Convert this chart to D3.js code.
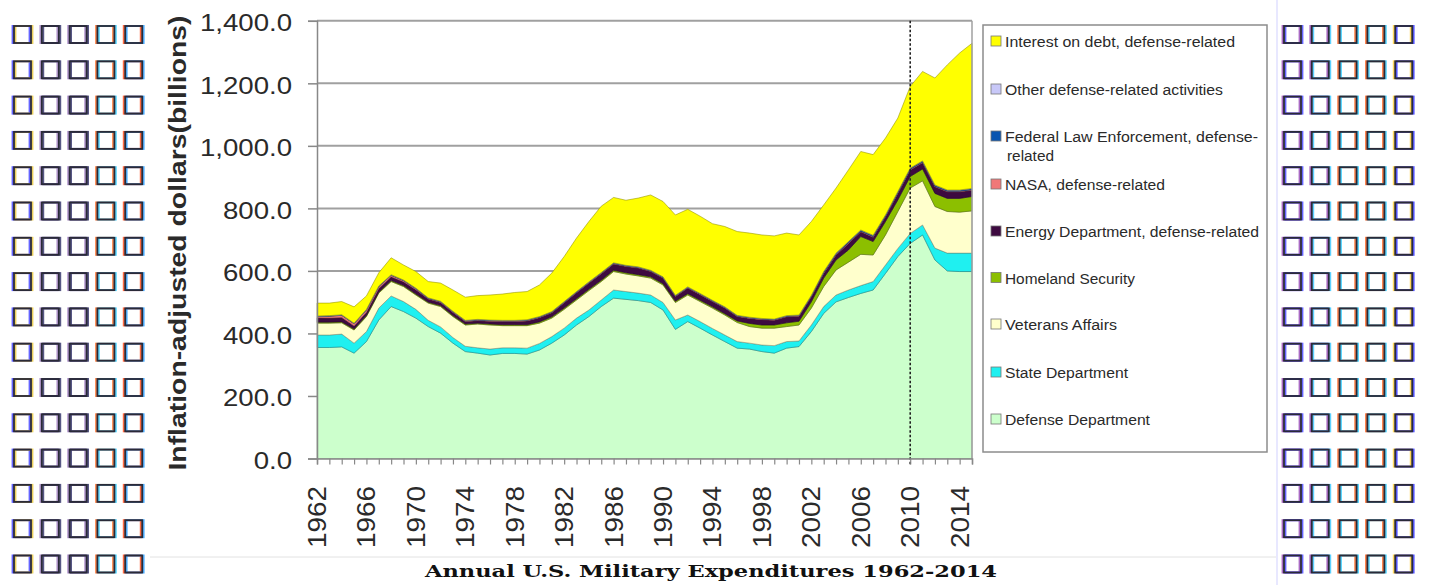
<!DOCTYPE html>
<html><head><meta charset="utf-8">
<script src="https://cdn.jsdelivr.net/npm/d3@7"></script>
<style>body{margin:0;background:#fff}svg{display:block}</style>
</head><body><svg id="c" width="1431" height="585"></svg>
<script>
const years = [1962,1963,1964,1965,1966,1967,1968,1969,1970,1971,1972,1973,1974,1975,1976,1977,1978,1979,1980,1981,1982,1983,1984,1985,1986,1987,1988,1989,1990,1991,1992,1993,1994,1995,1996,1997,1998,1999,2000,2001,2002,2003,2004,2005,2006,2007,2008,2009,2010,2011,2012,2013,2014,2015];
const defenseDept = [355,355,357,337,374,443,486,470,449,422,401,369,342,337,331,336,336,334,347,369,395,427,454,486,513,509,505,499,475,413,438,417,395,374,353,350,342,337,353,358,406,464,501,515,528,539,592,646,688,715,635,600,598,598];
const stateDept = [40,40,41,32,32,38,34,32,28,20,20,18,17,17,19,18,18,19,21,21,22,22,21,21,26,25,24,24,24,30,21,21,21,21,21,19,21,24,21,18,21,22,22,24,25,27,27,26,32,32,38,57,59,59];
const veteransAffairs = [38,38,36,42,48,48,46,48,46,55,65,67,68,76,77,71,71,72,65,59,60,58,62,59,59,56,55,54,56,56,64,64,65,64,61,53,54,56,48,51,54,64,80,89,100,85,96,118,145,141,133,133,131,135];
const homelandSecurity = [3,3,3,3,3,3,3,3,3,3,3,3,3,3,3,3,3,3,4,4,4,4,4,4,4,4,4,4,4,4,4,4,4,4,5,10,10,10,12,12,20,27,32,39,57,43,43,37,37,38,42,42,44,46];
const energyDept = [14,13,14,10,11,12,12,12,14,10,10,10,8,8,9,10,10,12,13,13,17,19,20,21,20,20,21,17,18,15,18,18,17,18,14,16,17,15,19,16,16,15,16,21,15,14,15,21,21,20,21,21,21,20];
const nasa = [4,6,7,7,7,6,5,4,3,2,2,2,2,2,2,2,2,2,2,2,2,2,2,2,2,2,2,2,2,2,2,2,2,2,2,2,2,2,2,2,2,2,2,2,2,2,2,2,2,2,2,2,2,2];
const fedLawEnforcement = [1,1,1,1,1,1,1,1,1,1,1,1,1,1,1,1,1,1,1,1,1,1,1,1,1,1,1,1,1,1,1,1,1,1,1,1,1,1,1,1,2,3,3,3,3,3,3,3,3,3,3,3,3,3];
const otherActivities = [1,1,1,1,1,1,1,1,1,1,1,1,1,1,1,1,1,1,1,1,1,1,1,1,1,1,1,1,1,1,1,1,1,1,1,1,1,1,1,1,1,1,1,1,1,1,1,1,1,1,1,1,1,1];
const interestOnDebt = [41,40,42,52,43,42,54,48,53,52,58,68,74,76,80,84,89,90,101,123,144,171,193,212,209,208,220,241,241,257,248,247,245,257,268,269,267,266,264,256,236,213,208,229,251,258,246,235,261,286,342,400,438,464];

const seriesKeys = ["defense","state","va","homeland","energy","nasa","fle","other","interest"];
const seriesLabels = ["Defense Department","State Department","Veterans Affairs","Homeland Security","Energy Department, defense-related","NASA, defense-related","Federal Law Enforcement, defense-related","Other defense-related activities","Interest on debt, defense-related"];
const seriesColors = ["#ccffcc","#1ff0f0","#ffffcc","#8cbf00","#3d0a40","#f07878","#0a55b0","#c8c8f8","#ffff00"];
const yTickValues = [0,200,400,600,800,1000,1200,1400];
const xLabelYears = [1962,1966,1970,1974,1978,1982,1986,1990,1994,1998,2002,2006,2010,2014];
const markerYear = 2010;
const yAxisTitle = "Inflation-adjusted dollars(billions)";
const chartTitle = "Annual U.S. Military Expenditures 1962-2014";

const seriesArrays = [defenseDept,stateDept,veteransAffairs,homelandSecurity,energyDept,nasa,fedLawEnforcement,otherActivities,interestOnDebt];
const table = years.map((y,i)=>{const o={year:y}; seriesKeys.forEach((k,j)=>o[k]=seriesArrays[j][i]); return o;});

const svg = d3.select("#c");
const FONT = "'Liberation Sans', Arial, sans-serif";

// decorative boxes
const leftFringe = [["#4a4aff","#e8c840"],["#a888c8","#3a3a70"],["#a888c8","#3a3a70"],["#ff8040","#40d0ff"],["#ff5020","#30a0ff"]];
const rightFringe = [["#9a50b8","#4a4aff"],["#9a50b8","#40c8ff"],["#ff7030","#40d0ff"],["#ff7030","#40d0ff"],["#ffd040","#3a3aff"]];
function boxes(x0, fr){
  const g = svg.append("g");
  for(let r=0;r<16;r++){
    for(let c=0;c<5;c++){
      const x = x0 + c*27.8, y = 26 + r*35.3;
      g.append("rect").attr("x",x-1.4).attr("y",y).attr("width",17).attr("height",17).attr("fill","none").attr("stroke",fr[c][0]).attr("stroke-width",2).attr("opacity",0.85);
      g.append("rect").attr("x",x+1.4).attr("y",y).attr("width",17).attr("height",17).attr("fill","none").attr("stroke",fr[c][1]).attr("stroke-width",2).attr("opacity",0.85);
      g.append("rect").attr("x",x).attr("y",y).attr("width",17).attr("height",17).attr("fill","none").attr("stroke","#2a2a38").attr("stroke-width",1.8);
    }
  }
}
boxes(14, leftFringe);
boxes(1284, rightFringe);
svg.append("line").attr("x1",1277).attr("x2",1277).attr("y1",0).attr("y2",585).attr("stroke","#8080ff").attr("stroke-width",1).attr("opacity",0.35);
svg.append("line").attr("x1",150).attr("x2",1276).attr("y1",557).attr("y2",557).attr("stroke","#e2e2e2").attr("stroke-width",1);

// scales
const x = d3.scaleLinear().domain([years[0], years[years.length-1]]).range([317, 972]);
const y = d3.scaleLinear().domain([0,1400]).range([458.5, 20.8]);

// gridlines
svg.append("g").selectAll("line").data(yTickValues.filter(v=>v>0)).join("line")
  .attr("x1",317).attr("x2",972).attr("y1",d=>y(d)).attr("y2",d=>y(d))
  .attr("stroke","#a0a0a0").attr("stroke-width",2);

// stacked areas
const stack = d3.stack().keys(seriesKeys);
const layers = stack(table);
const area = d3.area().x(d=>x(d.data.year)).y0(d=>y(d[0])).y1(d=>y(d[1]));
svg.append("g").selectAll("path").data(layers).join("path")
  .attr("d",area)
  .attr("fill",(d,i)=>seriesColors[i])
  .attr("stroke",(d,i)=>d3.color(seriesColors[i]).darker(1.6))
  .attr("stroke-width",0.8).attr("stroke-opacity",0.7);

// plot right border
svg.append("line").attr("x1",972).attr("x2",972).attr("y1",y(1400)).attr("y2",y(0)).attr("stroke","#a0a0a0").attr("stroke-width",1.5);

// dotted marker
svg.append("line").attr("x1",x(markerYear)).attr("x2",x(markerYear)).attr("y1",y(1400)).attr("y2",y(0)+6)
  .attr("stroke","#222").attr("stroke-width",1.6).attr("stroke-dasharray","2.5,2");

// y axis
const yAxis = d3.axisLeft(y).tickValues(yTickValues).tickSize(9).tickFormat(d3.format(",.1f"));
const yg = svg.append("g").attr("transform","translate(317,0)").call(yAxis);
yg.select(".domain").attr("stroke","#888").attr("stroke-width",1.5);
yg.selectAll(".tick line").attr("stroke","#888").attr("stroke-width",1.5);
yg.selectAll(".tick text").attr("x",null).attr("dy",null)
  .attr("font-family",FONT).attr("font-size",23).attr("fill","#2a2a2a")
  .attr("text-anchor","end")
  .attr("transform","translate(-25,10) scale(1.2,1)");

// x axis
const xAxis = d3.axisBottom(x).tickValues(years).tickSize(6).tickFormat("");
const xg = svg.append("g").attr("transform",`translate(0,${y(0)})`).call(xAxis);
xg.select(".domain").attr("stroke","#888").attr("stroke-width",1.5);
xg.selectAll(".tick line").attr("stroke","#888").attr("stroke-width",1.2);
svg.append("g").selectAll("text").data(xLabelYears).join("text")
  .attr("transform",d=>`translate(${x(d)+9},486) rotate(-90)`)
  .attr("text-anchor","end")
  .attr("font-family",FONT).attr("font-size",25).attr("fill","#2a2a2a")
  .attr("textLength",62).attr("lengthAdjust","spacingAndGlyphs")
  .text(d=>d);

// y title
svg.append("text").attr("transform","translate(185.5,243) rotate(-90)")
  .attr("text-anchor","middle").attr("font-family",FONT).attr("font-weight","bold")
  .attr("font-size",23).attr("fill","#2a2a2a")
  .attr("textLength",455).attr("lengthAdjust","spacingAndGlyphs")
  .text(yAxisTitle);

// legend
svg.append("rect").attr("x",983).attr("y",25).attr("width",284).attr("height",427)
  .attr("fill","#fff").attr("stroke","#8c8c8c").attr("stroke-width",1.5);
const legendRows = [
  {i:8, lines:["Interest on debt, defense-related"], base:47, w:[230]},
  {i:7, lines:["Other defense-related activities"], base:95, w:[218]},
  {i:6, lines:["Federal Law Enforcement, defense-","related"], base:142, w:[253,47]},
  {i:5, lines:["NASA, defense-related"], base:190, w:[160]},
  {i:4, lines:["Energy Department, defense-related"], base:237, w:[254]},
  {i:3, lines:["Homeland Security"], base:283.5, w:[130]},
  {i:2, lines:["Veterans Affairs"], base:330, w:[112]},
  {i:1, lines:["State Department"], base:378, w:[123]},
  {i:0, lines:["Defense Department"], base:425, w:[145]}
];
const lg = svg.append("g");
legendRows.forEach(r=>{
  lg.append("rect").attr("x",991).attr("y",r.base-11).attr("width",10).attr("height",10)
    .attr("fill",seriesColors[r.i]).attr("stroke","#777").attr("stroke-width",0.8);
  r.lines.forEach((t,k)=>{
    lg.append("text").attr("x",k===0?1005:1007).attr("y",r.base+k*19)
      .attr("font-family",FONT).attr("font-size",15.5).attr("fill","#2a2a2a")
      .attr("textLength",r.w[k]).attr("lengthAdjust","spacingAndGlyphs").text(t);
  });
});

// title
svg.append("text").attr("x",711).attr("y",577).attr("text-anchor","middle")
  .attr("font-family","'DejaVu Serif', serif").attr("font-weight","bold").attr("font-size",16)
  .attr("fill","#111").attr("textLength",572).attr("lengthAdjust","spacingAndGlyphs")
  .text(chartTitle);
</script>
</body></html>
